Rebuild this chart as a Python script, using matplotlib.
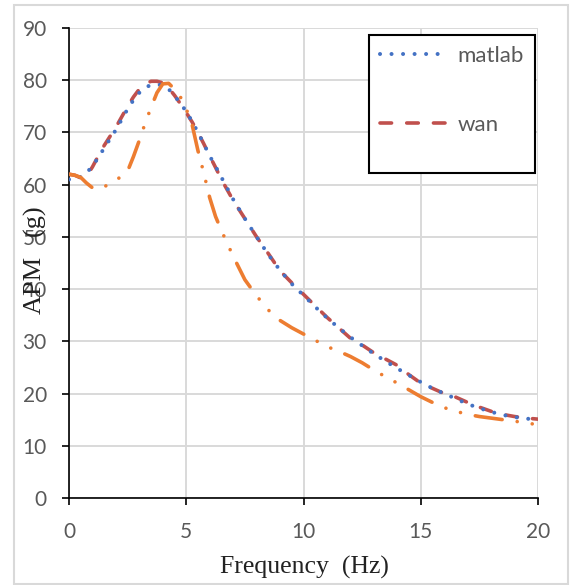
import numpy as np
import matplotlib
matplotlib.use("Agg")
import matplotlib.pyplot as plt
from matplotlib.patches import Rectangle

# frequency grid (Hz) and the three response curves
freq = [0, 0.25, 0.5, 0.75, 1.0, 1.25, 1.5, 2.0, 2.5, 2.75, 3.0, 3.25, 3.5, 3.75,
        4.0, 4.25, 4.5, 4.75, 5.0, 5.25, 5.5, 5.75, 6.0, 6.25, 6.5, 7.0, 7.5, 8.0,
        8.5, 9.0, 9.5, 10.0, 10.5, 11.0, 11.5, 12.0, 12.5, 13.0, 13.5, 14.0, 14.5,
        15.0, 15.5, 16.0, 16.5, 17.0, 17.5, 18.0, 18.5, 19.0, 19.5, 20.0]
matlab = [61.0, 61.1, 61.5, 62.3, 63.5, 65.2, 67.0, 70.5, 74.5, 76.2, 77.6, 78.6, 79.1, 79.2,
          79.0, 78.3, 77.0, 75.6, 74.0, 72.1, 70.0, 67.8, 65.5, 63.5, 61.4, 57.2, 53.5, 50.0,
          46.6, 43.6, 41.0, 38.8, 36.6, 34.5, 32.6, 30.8, 29.2, 27.6, 26.2, 24.8, 23.5,
          22.2, 21.0, 20.0, 19.0, 18.0, 17.2, 16.5, 15.9, 15.5, 15.2, 15.0]
wan = [62.0, 61.8, 61.3, 61.6, 63.4, 65.5, 67.5, 71.0, 75.0, 76.8, 78.3, 79.3, 79.8, 79.8,
       79.5, 78.5, 77.1, 75.5, 73.8, 72.0, 70.0, 67.8, 65.5, 63.3, 61.0, 57.0, 53.5, 50.0,
       46.8, 43.5, 41.2, 39.0, 36.8, 34.6, 32.6, 30.6, 29.3, 27.8, 26.6, 25.4, 23.6,
       22.0, 21.0, 20.0, 19.3, 18.3, 17.4, 16.6, 16.0, 15.6, 15.3, 15.1]
third = [62.0, 61.8, 61.4, 60.3, 59.4, 59.1, 59.6, 60.8, 62.6, 65.4, 68.5, 71.8, 74.8, 77.6,
         79.3, 79.4, 78.3, 76.8, 74.5, 71.5, 66.5, 62.2, 57.5, 53.9, 51.2, 46.3, 41.8, 38.7,
         36.0, 34.0, 32.6, 31.4, 30.2, 29.0, 28.1, 27.1, 25.9, 24.5, 23.2, 22.0, 20.7,
         19.4, 18.3, 17.3, 16.6, 16.0, 15.6, 15.3, 15.0, 14.7, 14.4, 14.0]

xticks = [0, 5, 10, 15, 20]
yticks = [0, 10, 20, 30, 40, 50, 60, 70, 80, 90]

W, H = 571, 585
fig = plt.figure(figsize=(W / 100, H / 100), dpi=100)
ax = fig.add_axes([69 / W, 1 - 498 / H, (538 - 69) / W, (498 - 28) / H])

# outer light border of the chart area
fig.patches.append(Rectangle((14 / W, 1 - 584 / H), (568 - 14) / W, (584 - 5) / H,
                             transform=fig.transFigure, fill=False,
                             edgecolor="#d9d9d9", linewidth=1.5))

ax.plot(freq, wan, color="#c0504d", linewidth=2.6, linestyle=(0, (3.2, 4.2)),
        dash_capstyle="round", label="wan", zorder=3)
ax.plot(freq, matlab, color="#4472c4", linewidth=2.9, linestyle=(0, (0.01, 2.85)),
        dash_capstyle="round", label="matlab", zorder=3.5)
ax.plot(freq, third, color="#ed7d31", linewidth=2.6,
        linestyle=(0, (7.5, 4.2, 0.01, 4.2, 0.01, 4.2)),
        dash_capstyle="round", zorder=4)

ax.set_xlim(0, 20)
ax.set_ylim(0, 90)
ax.set_xticks(xticks)
ax.set_yticks(yticks)
ax.grid(True, color="#d9d9d9", linewidth=1.4)
ax.set_axisbelow(True)
for s in ["top", "right"]:
    ax.spines[s].set_visible(False)
for s in ["left", "bottom"]:
    ax.spines[s].set_linewidth(1.2)
    ax.spines[s].set_color("black")
ax.tick_params(axis="y", direction="out", length=5, width=1.2, pad=11,
               labelsize=15, labelcolor="#595959")
ax.tick_params(axis="x", direction="out", length=5, width=1.2, pad=12,
               labelsize=15, labelcolor="#595959")
for lab in ax.get_xticklabels() + ax.get_yticklabels():
    lab.set_family("Lato")

# axis titles in serif, placed like the original (the y title overlaps the ticks there too)
fig.text(304 / W, 1 - 567 / H, "Frequency  (Hz)", family="Liberation Serif",
         fontsize=18.5, ha="center", va="center", color="#222222")
fig.text(35 / W, 1 - 260 / H, "APM   (g)", family="Liberation Serif",
         fontsize=19, ha="center", va="center", rotation=90, color="#222222")

# legend frame drawn separately (it is taller than its two entries)
ax.add_patch(Rectangle((369 / W, 1 - 173 / H), (535 - 369) / W, (173 - 35) / H,
                       transform=fig.transFigure, fill=True, facecolor="white",
                       edgecolor="black", linewidth=1.5, zorder=5, clip_on=False))
handles, labels = ax.get_legend_handles_labels()
order = [labels.index("matlab"), labels.index("wan")]
leg = ax.legend([handles[i] for i in order], [labels[i] for i in order],
                loc="upper left", bbox_to_anchor=(380 / W, 1 - 46 / H),
                bbox_transform=fig.transFigure, frameon=False, borderpad=0,
                borderaxespad=0, handlelength=3.1, handletextpad=0.4,
                labelspacing=2.2, prop={"family": "Lato", "size": 16})
for t in leg.get_texts():
    t.set_color("#595959")
leg.set_zorder(6)

fig.savefig("out.png", dpi=100)
